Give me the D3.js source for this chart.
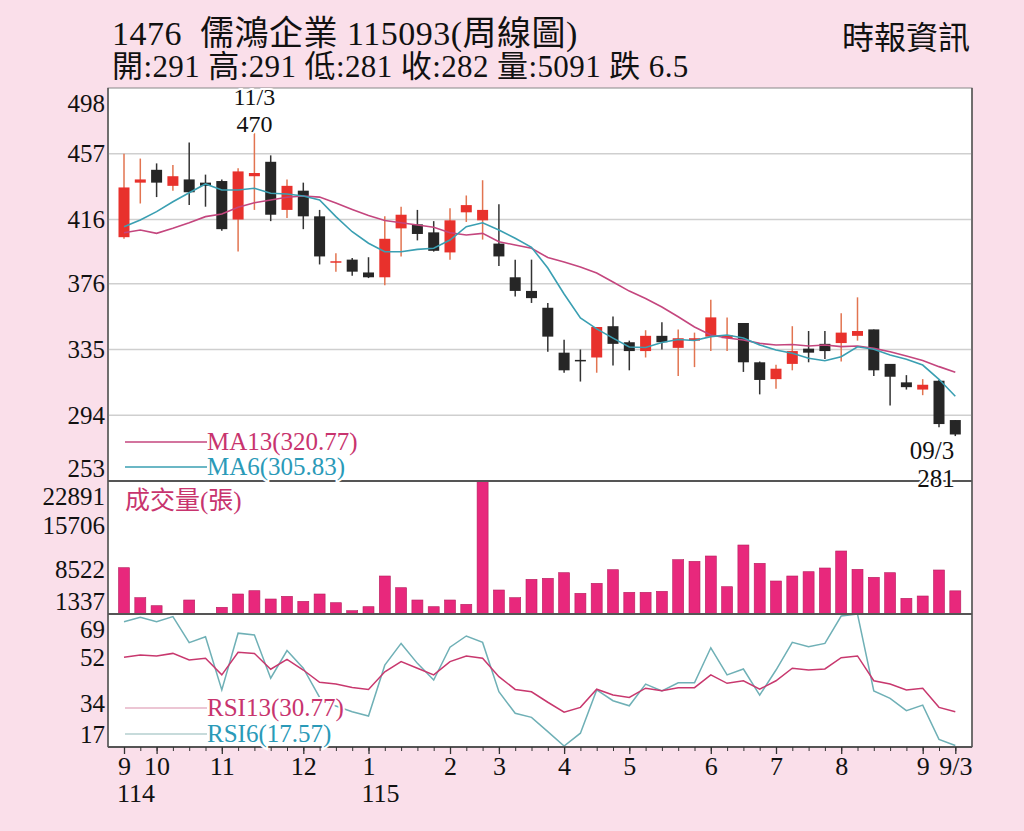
<!DOCTYPE html>
<html>
<head>
<meta charset="utf-8">
<script src="https://cdn.jsdelivr.net/npm/d3@7"></script>
<style>
  body { margin: 0; background: #fadfea; }
  svg { display: block; }
</style>
</head>
<body>
<svg id="chart" width="1024" height="831"></svg>
<script>
// weekly candles, 1476 儒鴻
const opens  = [405,439,447,437,441,439,440,416,443,452, 422,434,418,389.5,391,383,380,410.5,413,408,
                395.5,420.5,415.5,401,380,371.5,361,333,328.5,330, 349.5,339.5,334,343.5,336,340.5,343,342,351.5,327,
                316.5,326,335.5,338.5,339,343.5,347.5,326,314.5,310, 315.5,291];
const highs  = [457,454,451,450,464,444,441,448,470,456, 441,439,422,395,392,392.5,418,424,422,415,
                423,431,440.5,425.5,391,391,364,341,335,349, 355.5,340.5,347,352,347.5,345.5,366,355,351.5,327.5,
                325.5,349.5,346.5,346.5,357.5,367.5,347.5,326,319,316.5, 316,291];
const lows   = [404,426,430,434,425,424,409,396,422,415, 417,410,388,383.5,381,379.5,375,393,403,396,
                391,414.5,403.5,387,368,364,333.5,320.5,315,320.5, 325,322,330,335,318.5,324,334,334,321,307,
                310.5,322,327,329,327.5,340.5,318.5,300,310,306.5, 286.5,281];
const closes = [436,441,439,443,433,437,410,446,445,419, 437,418,393,390,383.5,380,404,419,407,396.5,
                415.5,425,422,393,371.5,367,343,322,328,349, 338.5,334,343.5,339.5,342,342,355,344,327,316,
                323,334,333,334,345.5,346.5,322,318,311.5,313, 288.5,282];
const volumes = [8840,3979,2682,1450,3606,1337,2423,4578,5113,3768, 4205,3395,4578,3168,1872,2520,7495,5599,3606,2520,
                 3606,2909,22891,5226,3979,6960,7123,8030,4692,6312, 8516,4854,4854,5016,10137,9878,10736,5761,12519,9553,
                 6685,7495,8192,8792,11547,8581,7285,8030,3881,4254, 8468,5091];
const ma6  = [411.5,415.7,420.9,427.1,432.7,438.2,434.4,434.4,435.5,432.4, 431.9,430.7,428.2,417.8,408.4,401.2,395.9,395.9,397.4,398.1,
              403.2,411.5,414,409.5,404.3,398.7,385.8,369.6,354.6,347.8, 342.1,336.5,336.2,339.3,341.2,340.6,343,344,342.1,337.8,
              334.7,332.6,329.5,328,330.5,336.7,335.1,331.5,328.9,325.3, 316.4,305.83];
const ma13 = [407.8,409.5,407.4,410.5,414,417.8,419.4,423.6,426.5,428.2, 429.9,430.7,430,426.3,422.3,418.5,415.4,414,412.6,411.2,
              407.8,406.4,407.4,402.2,400.1,398.1,392.3,389.5,386.4,382.7, 377.1,371.4,366.8,361.5,355.4,349,344,342.1,340.9,338.8,
              337.8,338.1,337.2,337.8,336.8,337.2,335.7,333.6,330.9,328.1, 324.3,320.77];
const rsi13 = [52.1,53,52.6,53.6,51,51.7,45.2,54,53.6,47.4, 51.3,47.1,42.3,41.6,40.3,39.5,46.4,50.4,47.8,45.2,
               50.4,52.6,51.7,44.5,39.5,38.6,34.5,30.6,32.5,39.6, 37.3,36.4,40,39,40.2,40.2,45.2,41.9,42.9,39.6,
               42.9,47.8,47.1,47.5,51.9,52.6,42.9,41.6,39.3,40, 32.5,30.77];
const rsi6  = [66,67.7,66,68,57.8,60.1,39.3,61.5,60.8,43.9, 54.7,47.8,36.4,33,30.8,29.1,49,57.5,49.7,43.2,
               56,60.4,57.9,38.6,30.2,28.6,23,17.4,22.4,39.3, 35.1,33.1,41.6,38.9,42.1,42.1,55.8,45.2,47.5,37.3,
               47.1,57.9,56.2,57.5,68.2,69,38.9,36,31.2,33.4, 20,17.57];

const priceTicks = [253, 294, 335, 376, 416, 457, 498];
const volTicks = [1337, 8522, 15706, 22891];
const rsiTicks = [17, 34, 52, 69];
const monthIdx = [0, 2, 6, 11, 15, 20, 23, 27, 31, 36, 40, 44, 49, 51];
const monthLabels = ["9", "10", "11", "12", "1", "2", "3", "4", "5", "6", "7", "8", "9", "9/3"];
const yearIdx = [0, 15];
const yearLabels = ["114", "115"];

const serif = '"Liberation Serif", "Noto Sans CJK TC", serif';
const cRed = "#e8312c", cBlack = "#262626", cPink = "#c8346e", cTeal = "#2a9ab8";

const svg = d3.select("#chart");
const plotL = 108, plotR = 972, plotT = 88, priceB = 481, volB = 614, rsiB = 747;
const idx = d3.range(closes.length);

const x = d3.scaleLinear().domain([0, closes.length - 1]).range([124, 955.3]);
const yP = d3.scaleLinear().domain(d3.extent(priceTicks)).range([priceB, plotT]);
const yV = d3.scaleLinear().domain(d3.extent(volTicks)).range([volB, priceB]);
const yR = d3.scaleLinear().domain(d3.extent(rsiTicks)).range([rsiB, volB]);

// header
svg.append("text").attr("x", 112).attr("y", 45).attr("font-family", serif).attr("font-size", 34)
    .attr("letter-spacing", 0.5).style("white-space", "pre").attr("fill", "#111")
    .text("1476  儒鴻企業 115093(周線圖)");
svg.append("text").attr("x", 112).attr("y", 76.5).attr("font-family", serif).attr("font-size", 31)
    .attr("letter-spacing", 0.4).style("white-space", "pre").attr("fill", "#111")
    .text("開:291 高:291 低:281 收:282 量:5091 跌 6.5");
svg.append("text").attr("x", 970).attr("y", 49).attr("text-anchor", "end").attr("font-family", serif)
    .attr("font-size", 32).attr("fill", "#111").text("時報資訊");

// plot area
svg.append("rect").attr("x", plotL).attr("y", plotT).attr("width", plotR - plotL).attr("height", rsiB - plotT)
    .attr("fill", "#fff").attr("stroke", "#888").attr("stroke-width", 1);

svg.append("g").selectAll("line").data(priceTicks.slice(1, -1)).join("line")
    .attr("x1", plotL).attr("x2", plotR).attr("y1", d => yP(d)).attr("y2", d => yP(d))
    .attr("stroke", "#cfcfcf").attr("stroke-width", 1.5);

// candles
const up = i => closes[i] >= opens[i];
svg.append("g").selectAll("line").data(idx).join("line")
    .attr("x1", i => x(i)).attr("x2", i => x(i))
    .attr("y1", i => yP(highs[i])).attr("y2", i => yP(lows[i]))
    .attr("stroke", i => up(i) ? "#e27450" : "#333").attr("stroke-width", 1.5);
svg.append("g").selectAll("rect").data(idx).join("rect")
    .attr("x", i => x(i) - 5.5).attr("width", 11)
    .attr("y", i => yP(Math.max(opens[i], closes[i])))
    .attr("height", i => Math.max(1.5, Math.abs(yP(opens[i]) - yP(closes[i]))))
    .attr("fill", i => up(i) ? cRed : cBlack);

const priceLine = arr => d3.line().x((d, i) => x(i)).y(d => yP(d))(arr);
svg.append("path").attr("d", priceLine(ma13)).attr("fill", "none").attr("stroke", "#c4467e").attr("stroke-width", 1.6);
svg.append("path").attr("d", priceLine(ma6)).attr("fill", "none").attr("stroke", "#3a9fb2").attr("stroke-width", 1.6);

// volume
svg.append("g").selectAll("rect").data(idx).join("rect")
    .attr("x", i => x(i) - 5.5).attr("width", 11)
    .attr("y", i => yV(volumes[i])).attr("height", i => yV(volTicks[0]) - yV(volumes[i]))
    .attr("fill", "#e8287c").attr("stroke", "#b51f5e").attr("stroke-width", 0.6);

// rsi
const rsiLine = arr => d3.line().x((d, i) => x(i)).y(d => yR(d))(arr);
svg.append("path").attr("d", rsiLine(rsi6)).attr("fill", "none").attr("stroke", "#6fb0b6").attr("stroke-width", 1.5);
svg.append("path").attr("d", rsiLine(rsi13)).attr("fill", "none").attr("stroke", "#c8386e").attr("stroke-width", 1.5);

// panel separators
[priceB, volB, rsiB].forEach(y => {
    svg.append("line").attr("x1", plotL).attr("x2", plotR).attr("y1", y).attr("y2", y)
        .attr("stroke", "#555").attr("stroke-width", 2);
});
svg.append("line").attr("x1", plotL).attr("x2", plotL).attr("y1", plotT).attr("y2", rsiB).attr("stroke", "#555").attr("stroke-width", 1.5);
svg.append("line").attr("x1", plotR).attr("x2", plotR).attr("y1", plotT).attr("y2", rsiB).attr("stroke", "#555").attr("stroke-width", 1.5);

// legends
function legend(y, label, lineColor, textColor) {
    svg.append("line").attr("x1", 125).attr("x2", 207).attr("y1", y).attr("y2", y)
        .attr("stroke", lineColor).attr("stroke-width", 1.5);
    svg.append("text").attr("x", 207).attr("y", y + 8).attr("font-family", serif).attr("font-size", 25)
        .attr("fill", textColor).attr("stroke", "#fff").attr("stroke-width", 4).attr("paint-order", "stroke")
        .text(label);
}
legend(442, "MA13(320.77)", "#c4467e", cPink);
legend(467, "MA6(305.83)", "#3a9fb2", cTeal);
legend(708, "RSI13(30.77)", "#e6b3c6", cPink);
legend(734, "RSI6(17.57)", "#b5cfcf", cTeal);
svg.append("text").attr("x", 125).attr("y", 509).attr("font-family", serif).attr("font-size", 25)
    .attr("fill", cPink).text("成交量(張)");

// annotations
function note(xc, y, label, fs) {
    svg.append("text").attr("x", xc).attr("y", y).attr("text-anchor", "middle").attr("font-family", serif)
        .attr("font-size", fs).attr("fill", "#111").attr("stroke", "#fff").attr("stroke-width", 4)
        .attr("paint-order", "stroke").text(label);
}
note(x(8), 105, "11/3", 24);
note(x(8), 132, String(highs[8]), 24);
note(932, 459, "09/3", 25);
note(936, 487, String(lows[51]), 25);

// side axes
function sideAxis(scale, ticks) {
    const g = svg.append("g").attr("transform", `translate(${plotL},0)`)
        .call(d3.axisLeft(scale).tickValues(ticks).tickSize(0).tickPadding(3).tickFormat(d3.format("d")));
    g.select(".domain").remove();
    g.attr("font-family", serif).attr("font-size", 25);
    g.selectAll("text").attr("fill", "#111")
        .attr("transform", d => d === ticks[0] ? "translate(0,-13)" : d === ticks[ticks.length - 1] ? "translate(0,15)" : null);
}
sideAxis(yP, priceTicks);
sideAxis(yV, volTicks);
sideAxis(yR, rsiTicks);

// bottom axis
const minor = svg.append("g").attr("transform", `translate(0,${rsiB})`)
    .call(d3.axisBottom(x).tickValues(idx).tickSize(4).tickFormat(""));
minor.select(".domain").remove();
minor.selectAll("line").attr("stroke", "#333");
const months = svg.append("g").attr("transform", `translate(0,${rsiB})`)
    .call(d3.axisBottom(x).tickValues(monthIdx).tickSize(7).tickPadding(3)
        .tickFormat((d, i) => monthLabels[i]));
months.select(".domain").remove();
months.attr("font-family", serif).attr("font-size", 26);
months.selectAll("line").attr("stroke", "#333").attr("stroke-width", 1.3);
months.selectAll("text").attr("fill", "#111");

svg.append("g").selectAll("text").data(yearIdx).join("text")
    .attr("x", d => x(d) - 7).attr("y", 802).attr("font-family", serif).attr("font-size", 26)
    .attr("fill", "#111").text((d, i) => yearLabels[i]);
</script>
</body>
</html>
